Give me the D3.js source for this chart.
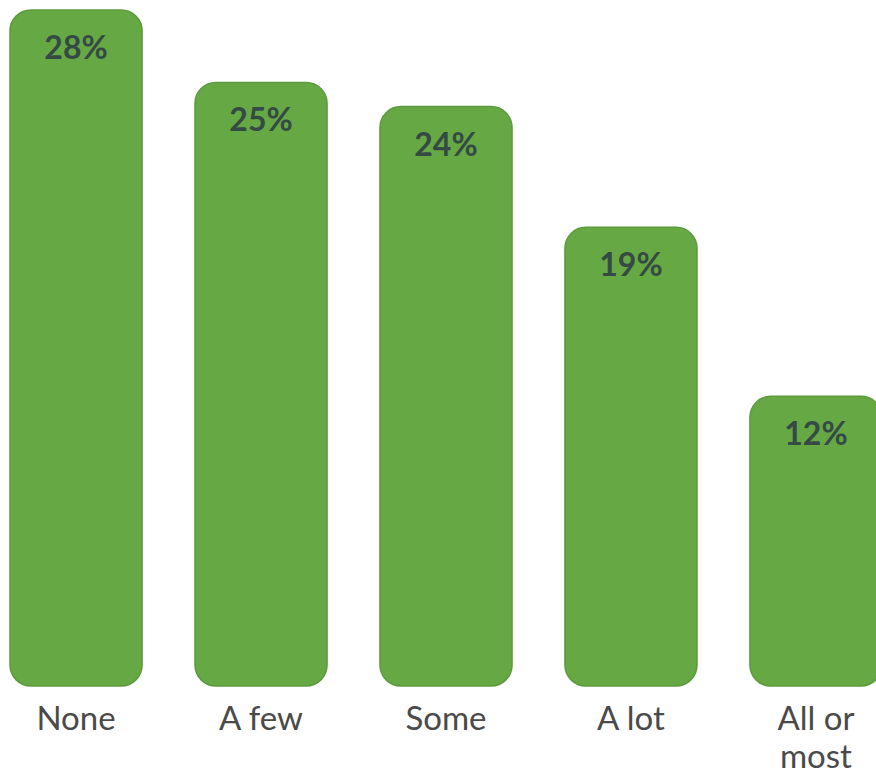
<!DOCTYPE html>
<html>
<head>
<meta charset="utf-8">
<script src="https://cdn.jsdelivr.net/npm/d3@7"></script>
<style>
  body { margin: 0; background: #ffffff; }
</style>
</head>
<body>
<div id="chart"></div>
<script>
// categories and values
var categories = ["None", "A few", "Some", "A lot", "All or most"];
var labelLines = [["None"], ["A few"], ["Some"], ["A lot"], ["All or", "most"]];
var values = [28, 25, 24, 19, 12];

var width = 876, height = 777;

var svg = d3.select("#chart")
  .append("svg")
  .attr("width", width)
  .attr("height", height)
  .style("background", "#ffffff");

var x = d3.scaleBand()
  .domain(categories)
  .range([10, 882])
  .paddingInner(0.286)
  .paddingOuter(0);

var y = d3.scaleLinear()
  .domain([0, 28])
  .range([686, 10]);

var g = svg.selectAll("g.bar")
  .data(values)
  .enter()
  .append("g")
  .attr("class", "bar");

g.append("rect")
  .attr("x", function(d, i) { return x(categories[i]); })
  .attr("y", function(d) { return y(d); })
  .attr("width", x.bandwidth())
  .attr("height", function(d) { return y(0) - y(d); })
  .attr("rx", 21)
  .attr("ry", 21)
  .attr("fill", "#66a844")
  .attr("stroke", "#5b9a3d")
  .attr("stroke-width", 1.5);

g.append("text")
  .attr("x", function(d, i) { return x(categories[i]) + x.bandwidth() / 2; })
  .attr("y", function(d) { return y(d) + 49; })
  .attr("text-anchor", "middle")
  .attr("font-family", "Lato, sans-serif")
  .attr("font-weight", "bold")
  .attr("font-size", 32)
  .attr("fill", "#354a45")
  .text(function(d) { return d + "%"; });

var lab = svg.selectAll("text.cat")
  .data(categories)
  .enter()
  .append("text")
  .attr("class", "cat")
  .attr("x", function(d) { return x(d) + x.bandwidth() / 2; })
  .attr("y", 730)
  .attr("text-anchor", "middle")
  .attr("font-family", "Lato, sans-serif")
  .attr("font-size", 33)
  .attr("fill", "#4a4a4a");

lab.selectAll("tspan")
  .data(function(d, i) { return labelLines[i]; })
  .enter()
  .append("tspan")
  .attr("x", function() { var c = d3.select(this.parentNode).datum(); return x(c) + x.bandwidth() / 2; })
  .attr("dy", function(d, i) { return i === 0 ? 0 : 38; })
  .text(function(d) { return d; });
</script>
</body>
</html>
